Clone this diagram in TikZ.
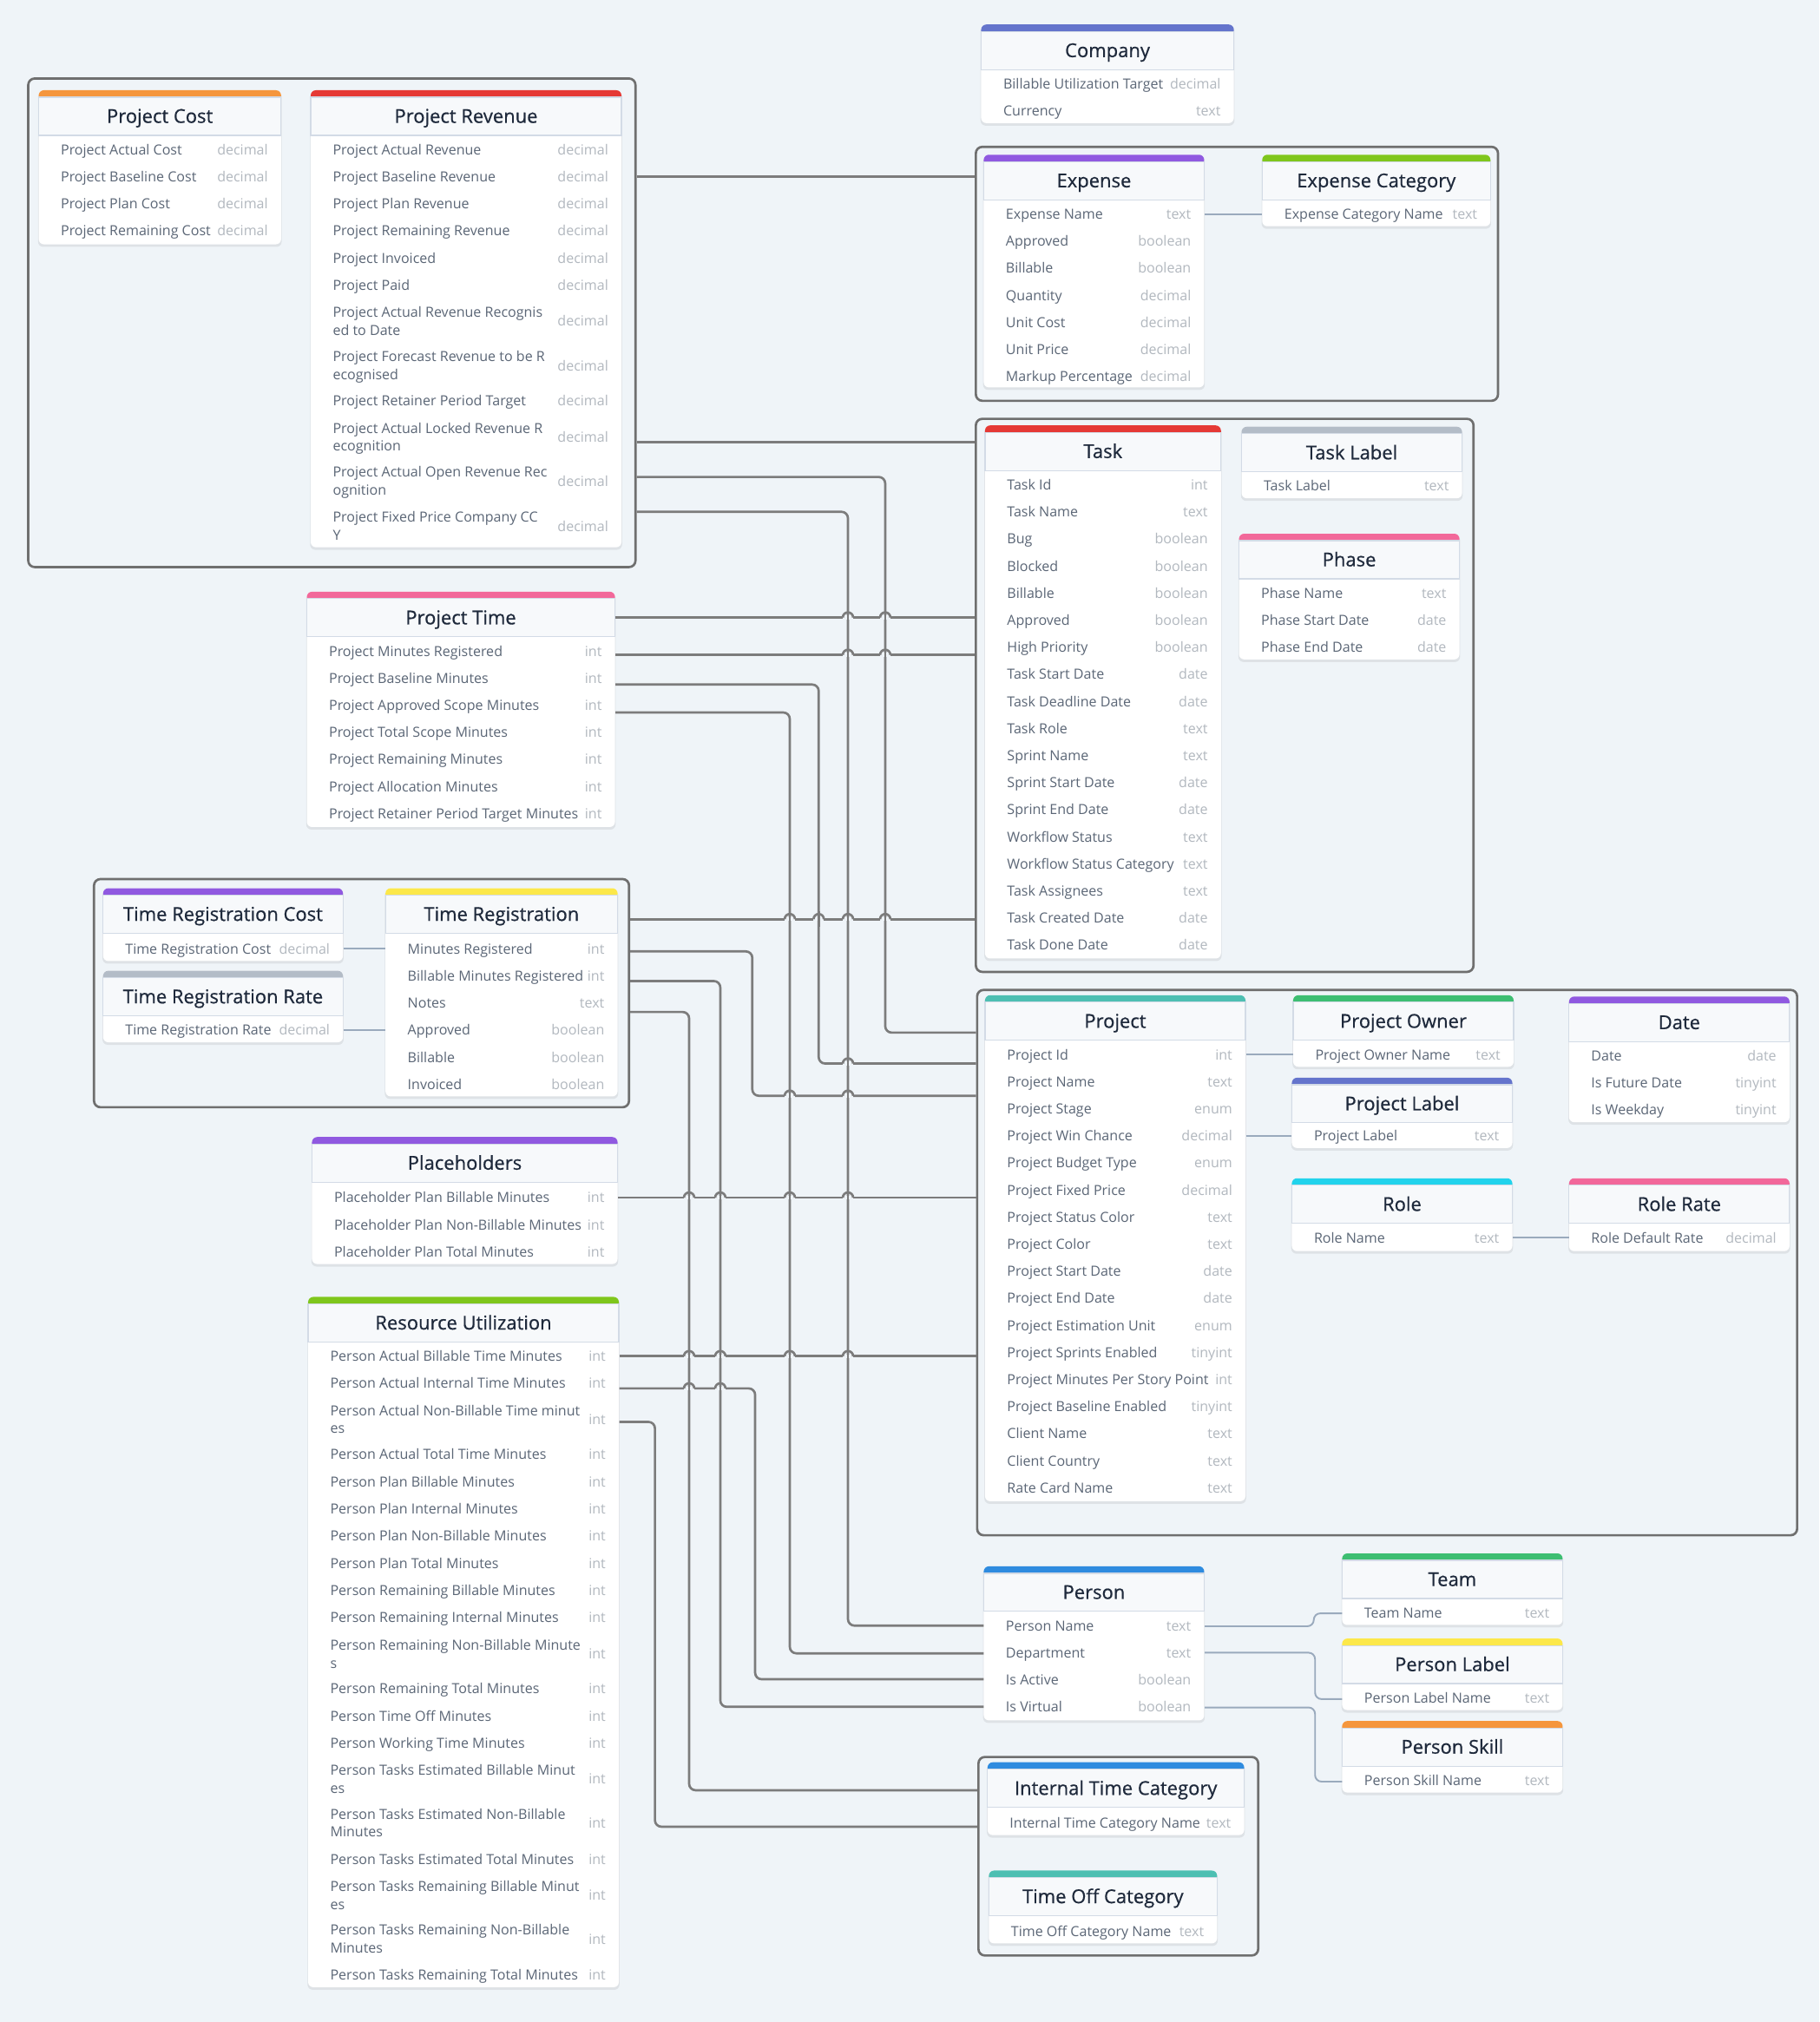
\documentclass[tikz,border=0pt]{standalone}
\usepackage{fontspec}
\setmainfont{Open Sans}
\newfontfamily\titlefont{Open Sans}[FakeBold=0.6]

\definecolor{bgcol}{HTML}{EFF4F8}
\definecolor{linecol}{HTML}{7C7C7C}
\definecolor{grpcol}{HTML}{6F6F6F}
\definecolor{thincol}{HTML}{9AAABD}
\definecolor{headbg}{HTML}{F7F9FB}
\definecolor{headline}{HTML}{D3DBE6}
\definecolor{titletxt}{HTML}{1E293B}
\definecolor{rowtxt}{HTML}{5B6676}
\definecolor{typetxt}{HTML}{B2B8BF}
\definecolor{orangebar}{HTML}{F5963D}
\definecolor{redbar}{HTML}{E53935}
\definecolor{indigobar}{HTML}{6474CC}
\definecolor{purplebar}{HTML}{9059E0}
\definecolor{limebar}{HTML}{7FC61C}
\definecolor{graybar}{HTML}{B3BCC7}
\definecolor{pinkbar}{HTML}{F2689A}
\definecolor{yellowbar}{HTML}{FCE84A}
\definecolor{tealbar}{HTML}{4DBFB2}
\definecolor{greenbar}{HTML}{3DBE72}
\definecolor{cyanbar}{HTML}{22D3EC}
\definecolor{bluebar}{HTML}{2E8BDF}

\tikzset{
  conn/.style={draw=linecol,line width=1.8,rounded corners=5},
  lightlink/.style={draw=thincol,line width=1.3,rounded corners=5},
  grpbox/.style={draw=grpcol,line width=1.8,rounded corners=5,anchor=north west,inner sep=0},
  tablebox/.style={anchor=north west,inner sep=0},
  headbox/.style={fill=headbg,draw=headline,line width=0.8},
  tabletitle/.style={font=\titlefont\fontsize{14.8}{16}\selectfont,text=titletxt,inner sep=0,text height=10.8,text depth=0},
  rowname/.style={anchor=west,align=left,inner sep=0,font=\fontsize{10.8}{14}\selectfont,text=rowtxt},
  rowtype/.style={anchor=east,inner sep=0,font=\fontsize{10.8}{14}\selectfont,text=typetxt},
}

% name, x, top, width, bottom, colour, title, rows (y/name/type)
\newcommand\erdtable[8]{%
  \fill[black,opacity=.07,rounded corners=4] (#2-.5,#3+1) rectangle (#2+#4+.5,#5+2);
  \fill[white,rounded corners=4] (#2,#3) rectangle (#2+#4,#5);
  \begin{scope}
    \clip (#2-1,#3-1) rectangle (#2+#4+1,#3+5.4);
    \fill[#6,rounded corners=4] (#2,#3) rectangle (#2+#4,#3+12);
  \end{scope}
  \draw[headbox] (#2,#3+5.4) rectangle (#2+#4,#3+35);
  \node[tabletitle] at (#2+#4/2,#3+19.9) {#7};
  \foreach \ry/\rn/\rt in {#8}{
    \node[rowname] at (#2+17,\ry+1.2) {\strut\rn\strut};
    \node[rowtype] at (#2+#4-10,\ry+1.2) {\strut\rt};
  }
  \node[tablebox,minimum width=#4,minimum height=#5-#3] (#1) at (#2,#3) {};
}

\begin{document}
\begin{tikzpicture}[x=1pt,y=-1pt]
  \fill[bgcol] (0,0) rectangle (1411,1568.5);
  \useasboundingbox (0,0) rectangle (1411,1568.5);

  % groups
  \node[grpbox,minimum width=471,minimum height=379] (grp1) at (21,60) {};
  \node[grpbox,minimum width=405,minimum height=197] (grp2) at (756,113) {};
  \node[grpbox,minimum width=386,minimum height=429] (grp3) at (756,324) {};
  \node[grpbox,minimum width=415,minimum height=177] (grp4) at (72,681) {};
  \node[grpbox,minimum width=636,minimum height=423] (grp5) at (757,767) {};
  \node[grpbox,minimum width=217,minimum height=154] (grp6) at (758,1362) {};

  \erdtable{pcost}{30}{70}{188}{189.5}{orangebar}{Project Cost}{116/Project Actual Cost/decimal, 137/Project Baseline Cost/decimal, 158/Project Plan Cost/decimal, 179/Project Remaining Cost/decimal}
  \erdtable{prevenue}{241}{70}{241}{424.5}{redbar}{Project Revenue}{116/Project Actual Revenue/decimal, 137/Project Baseline Revenue/decimal, 158/Project Plan Revenue/decimal, 179/Project Remaining Revenue/decimal, 200/Project Invoiced/decimal, 221/Project Paid/decimal, 249/Project Actual Revenue Recognis\\ed to Date/decimal, 283.5/Project Forecast Revenue to be R\\ecognised/decimal, 311/Project Retainer Period Target/decimal, 339/Project Actual Locked Revenue R\\ecognition/decimal, 373/Project Actual Open Revenue Rec\\ognition/decimal, 408/Project Fixed Price Company CC\\Y/decimal}
  \erdtable{company}{761}{19}{196}{95.5}{indigobar}{Company}{65/Billable Utilization Target/decimal, 86/Currency/text}
  \erdtable{expense}{763}{120}{171}{300.5}{purplebar}{Expense}{166/Expense Name/text, 187/Approved/boolean, 208/Billable/boolean, 229/Quantity/decimal, 250/Unit Cost/decimal, 271/Unit Price/decimal, 292/Markup Percentage/decimal}
  \erdtable{expcat}{979}{120}{177}{175.5}{limebar}{Expense Category}{166/Expense Category Name/text}
  \erdtable{task}{764}{330}{183}{743.5}{redbar}{Task}{376/Task Id/int, 397/Task Name/text, 418/Bug/boolean, 439/Blocked/boolean, 460/Billable/boolean, 481/Approved/boolean, 502/High Priority/boolean, 523/Task Start Date/date, 544/Task Deadline Date/date, 565/Task Role/text, 586/Sprint Name/text, 607/Sprint Start Date/date, 628/Sprint End Date/date, 649/Workflow Status/text, 670/Workflow Status Category/text, 691/Task Assignees/text, 712/Task Created Date/date, 733/Task Done Date/date}
  \erdtable{tasklabel}{963}{331}{171}{386.5}{graybar}{Task Label}{377/Task Label/text}
  \erdtable{phase}{961}{414}{171}{511.5}{pinkbar}{Phase}{460/Phase Name/text, 481/Phase Start Date/date, 502/Phase End Date/date}
  \erdtable{ptime}{238}{459}{239}{641.5}{pinkbar}{Project Time}{505/Project Minutes Registered/int, 526/Project Baseline Minutes/int, 547/Project Approved Scope Minutes/int, 568/Project Total Scope Minutes/int, 589/Project Remaining Minutes/int, 610/Project Allocation Minutes/int, 631/Project Retainer Period Target Minutes/int}
  \erdtable{trcost}{80}{689}{186}{745.5}{purplebar}{Time Registration Cost}{736/Time Registration Cost/decimal}
  \erdtable{trrate}{80}{753}{186}{808.5}{graybar}{Time Registration Rate}{799/Time Registration Rate/decimal}
  \erdtable{treg}{299}{689}{180}{850.5}{yellowbar}{Time Registration}{736/Minutes Registered/int, 757/Billable Minutes Registered/int, 778/Notes/text, 799/Approved/boolean, 820/Billable/boolean, 841/Invoiced/boolean}
  \erdtable{placeh}{242}{882}{237}{980.5}{purplebar}{Placeholders}{929/Placeholder Plan Billable Minutes/int, 950/Placeholder Plan Non-Billable Minutes/int, 971/Placeholder Plan Total Minutes/int}
  \erdtable{resutil}{239}{1006}{241}{1541.5}{limebar}{Resource Utilization}{1052/Person Actual Billable Time Minutes/int, 1073/Person Actual Internal Time Minutes/int, 1101/Person Actual Non-Billable Time minut\\es/int, 1128/Person Actual Total Time Minutes/int, 1149.5/Person Plan Billable Minutes/int, 1170.5/Person Plan Internal Minutes/int, 1191.5/Person Plan Non-Billable Minutes/int, 1212.5/Person Plan Total Minutes/int, 1233.5/Person Remaining Billable Minutes/int, 1254.5/Person Remaining Internal Minutes/int, 1283/Person Remaining Non-Billable Minute\\s/int, 1310/Person Remaining Total Minutes/int, 1331/Person Time Off Minutes/int, 1352/Person Working Time Minutes/int, 1380/Person Tasks Estimated Billable Minut\\es/int, 1414/Person Tasks Estimated Non-Billable\\Minutes/int, 1442/Person Tasks Estimated Total Minutes/int, 1470/Person Tasks Remaining Billable Minut\\es/int, 1504/Person Tasks Remaining Non-Billable\\Minutes/int, 1532/Person Tasks Remaining Total Minutes/int}
  \erdtable{project}{764}{772}{202}{1164.5}{tealbar}{Project}{818/Project Id/int, 839/Project Name/text, 860/Project Stage/enum, 881/Project Win Chance/decimal, 902/Project Budget Type/enum, 923/Project Fixed Price/decimal, 944/Project Status Color/text, 965/Project Color/text, 986/Project Start Date/date, 1007/Project End Date/date, 1028/Project Estimation Unit/enum, 1049/Project Sprints Enabled/tinyint, 1070/Project Minutes Per Story Point/int, 1091/Project Baseline Enabled/tinyint, 1112/Client Name/text, 1133/Client Country/text, 1154/Rate Card Name/text}
  \erdtable{powner}{1003}{772}{171}{827.5}{greenbar}{Project Owner}{818/Project Owner Name/text}
  \erdtable{plabel}{1002}{836}{171}{890.5}{indigobar}{Project Label}{881/Project Label/text}
  \erdtable{date}{1217}{773}{171}{870.5}{purplebar}{Date}{819/Date/date, 840/Is Future Date/tinyint, 861/Is Weekday/tinyint}
  \erdtable{role}{1002}{914}{171}{970.5}{cyanbar}{Role}{960/Role Name/text}
  \erdtable{rolerate}{1217}{914}{171}{970.5}{pinkbar}{Role Rate}{960/Role Default Rate/decimal}
  \erdtable{person}{763}{1215}{171}{1334.5}{bluebar}{Person}{1261/Person Name/text, 1282/Department/text, 1303/Is Active/boolean, 1324/Is Virtual/boolean}
  \erdtable{team}{1041}{1205}{171}{1260.5}{greenbar}{Team}{1251/Team Name/text}
  \erdtable{perslabel}{1041}{1271}{171}{1326.5}{yellowbar}{Person Label}{1317/Person Label Name/text}
  \erdtable{persskill}{1041}{1335}{171}{1390.5}{orangebar}{Person Skill}{1381/Person Skill Name/text}
  \erdtable{intcat}{766}{1367}{199}{1423.5}{bluebar}{Internal Time Category}{1414/Internal Time Category Name/text}
  \erdtable{offcat}{767}{1451}{177}{1507.5}{tealbar}{Time Off Category}{1498/Time Off Category Name/text}

  % connectors
  \draw[conn] (grp1.east |- 0,137) -- (grp2.west |- 0,137);
  \draw[conn] (grp1.east |- 0,343) -- (grp3.west |- 0,343);
  \draw[conn] (grp1.east |- 0,370) -| (686.6,801) -- (grp5.west |- 0,801);
  \draw[conn] (grp1.east |- 0,397) -| (657.7,1261) -- (person.west |- 0,1261);
  \draw[conn] (ptime.east |- 0,479) -- (grp3.west |- 0,479);
  \draw[conn] (ptime.east |- 0,508) -- (grp3.west |- 0,508);
  \draw[conn] (ptime.east |- 0,531) -| (635,825) -- (grp5.west |- 0,825);
  \draw[conn] (ptime.east |- 0,552.7) -| (612.6,1282.5) -- (person.west |- 0,1282.5);
  \draw[conn] (grp4.east |- 0,713) -- (grp3.west |- 0,713);
  \draw[conn] (grp4.east |- 0,738) -| (583.5,850) -- (grp5.west |- 0,850);
  \draw[conn] (grp4.east |- 0,761) -| (558.7,1324) -- (person.west |- 0,1324);
  \draw[conn] (grp4.east |- 0,785) -| (534.5,1388.7) -- (grp6.west |- 0,1388.7);
  \draw[conn] (placeh.east |- 0,929) -- (grp5.west |- 0,929);
  \draw[conn] (resutil.east |- 0,1052) -- (grp5.west |- 0,1052);
  \draw[conn] (resutil.east |- 0,1077) -| (585.7,1302.6) -- (person.west |- 0,1302.6);
  \draw[conn] (resutil.east |- 0,1103) -| (508,1417) -- (grp6.west |- 0,1417);

  % line hops
  \foreach \hx/\hy in {657.7/479, 686.6/479, 657.7/508, 686.6/508, 612.6/713, 635/713, 657.7/713, 686.6/713, 657.7/825, 612.6/850, 657.7/850, 534.5/929, 558.7/929, 612.6/929, 657.7/929, 534.5/1052, 558.7/1052, 612.6/1052, 657.7/1052, 534.5/1077, 558.7/1077}{
    \fill[bgcol] (\hx-4,\hy-1.5) rectangle (\hx+4,\hy+1.5);
    \draw[conn] (\hx,\hy-6) -- (\hx,\hy+6);
    \draw[conn] (\hx-4,\hy) arc[start angle=180,end angle=360,radius=4];
  }

  \draw[lightlink] (expense.east |- 0,166) -- (expcat.west |- 0,166);
  \draw[lightlink] (project.east |- 0,818) -- (powner.west |- 0,818);
  \draw[lightlink] (project.east |- 0,881) -- (plabel.west |- 0,881);
  \draw[lightlink] (role.east |- 0,960) -- (rolerate.west |- 0,960);
  \draw[lightlink] (trcost.east |- 0,736) -- (treg.west |- 0,736);
  \draw[lightlink] (trrate.east |- 0,799) -- (treg.west |- 0,799);
  \draw[lightlink] (person.east |- 0,1261.5) -| (1019,1251.5) -- (team.west |- 0,1251.5);
  \draw[lightlink] (person.east |- 0,1282) -| (1020,1318) -- (perslabel.west |- 0,1318);
  \draw[lightlink] (person.east |- 0,1324.5) -| (1020,1382) -- (persskill.west |- 0,1382);
\end{tikzpicture}
\end{document}
